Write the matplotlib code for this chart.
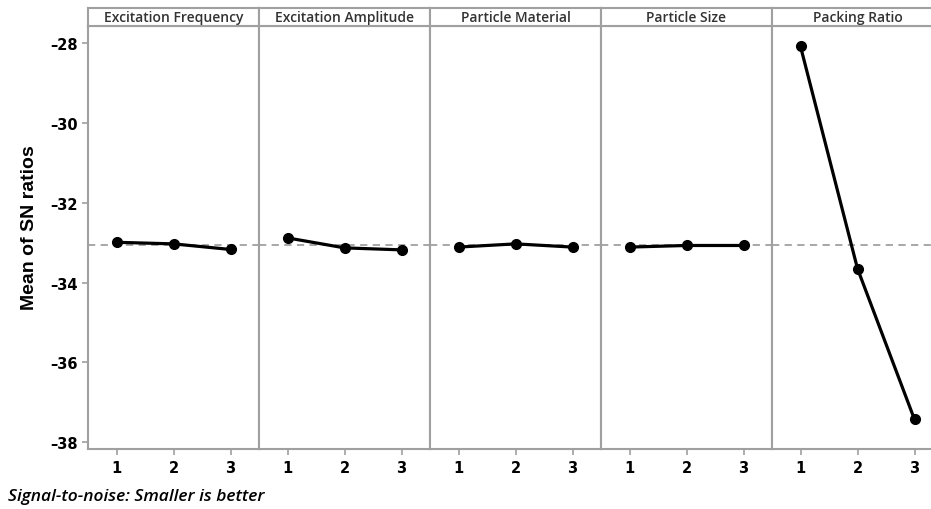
import matplotlib
matplotlib.use("Agg")
import matplotlib.pyplot as plt

# data (mean of S/N ratios per factor level)
factors = ["Excitation Frequency", "Excitation Amplitude", "Particle Material",
           "Particle Size", "Packing Ratio"]
levels = [1, 2, 3]
exc_freq = [-32.99, -33.03, -33.17]
exc_amp = [-32.88, -33.13, -33.18]
part_mat = [-33.11, -33.03, -33.11]
part_size = [-33.11, -33.07, -33.07]
pack_ratio = [-28.08, -33.65, -37.43]
yticks = [-28, -30, -32, -34, -36, -38]

series = [exc_freq, exc_amp, part_mat, part_size, pack_ratio]
grand_mean = sum(sum(s) for s in series) / (len(series) * len(levels))

W, H = 931, 510
fig = plt.figure(figsize=(W / 100, H / 100), dpi=100)
grey = "#a0a0a0"

x0, pw = 88, 171
y_top, y_bot, h_top = 27, 450, 9

for i, (name, vals) in enumerate(zip(factors, series)):
    left = (x0 + i * pw) / W
    ax = fig.add_axes([left, (H - y_bot) / H, pw / W, (y_bot - y_top) / H])
    ax.axhline(grand_mean, color=grey, ls=(0, (4, 3)), lw=1.3, zorder=1)
    ax.plot(levels, vals, color="black", lw=2.3, marker="o", ms=7, zorder=3)
    ax.set_xlim(0.5, 3.5)
    ax.set_ylim(-38.17, -27.57)
    ax.set_xticks(levels)
    ax.set_xticklabels([str(l) for l in levels], fontweight="bold", fontsize=10.5)
    for s in ax.spines.values():
        s.set_color(grey)
        s.set_linewidth(1.5)
    ax.tick_params(axis="x", color=grey, length=4, width=1.2, pad=4)
    if i == 0:
        ax.set_yticks(yticks)
        ax.set_yticklabels([str(t).replace("-", "\u2013") for t in yticks],
                           fontweight="bold", fontsize=10.5)
        ax.tick_params(axis="y", color=grey, length=4, width=1.2)
    else:
        ax.set_yticks([])
    # header strip
    hx = fig.add_axes([left, (H - y_top) / H, pw / W, (y_top - h_top) / H])
    hx.set_xticks([])
    hx.set_yticks([])
    for s in hx.spines.values():
        s.set_color(grey)
        s.set_linewidth(1.5)
    hx.text(0.5, 0.5, name, ha="center", va="center", fontsize=10,
            family="Open Sans", fontweight="semibold", color="#333333")

fig.text(30 / W, 1 - 228 / H, "Mean of SN ratios", rotation=90, ha="center",
         va="center", fontsize=14, family="Liberation Sans",
         fontweight="bold")
fig.text(8 / W, 1 - 497 / H, "Signal-to-noise: Smaller is better", ha="left",
         va="center", fontsize=12.5, family="Open Sans", fontstyle="italic",
         fontweight="semibold")

fig.savefig("out.png", dpi=100)
